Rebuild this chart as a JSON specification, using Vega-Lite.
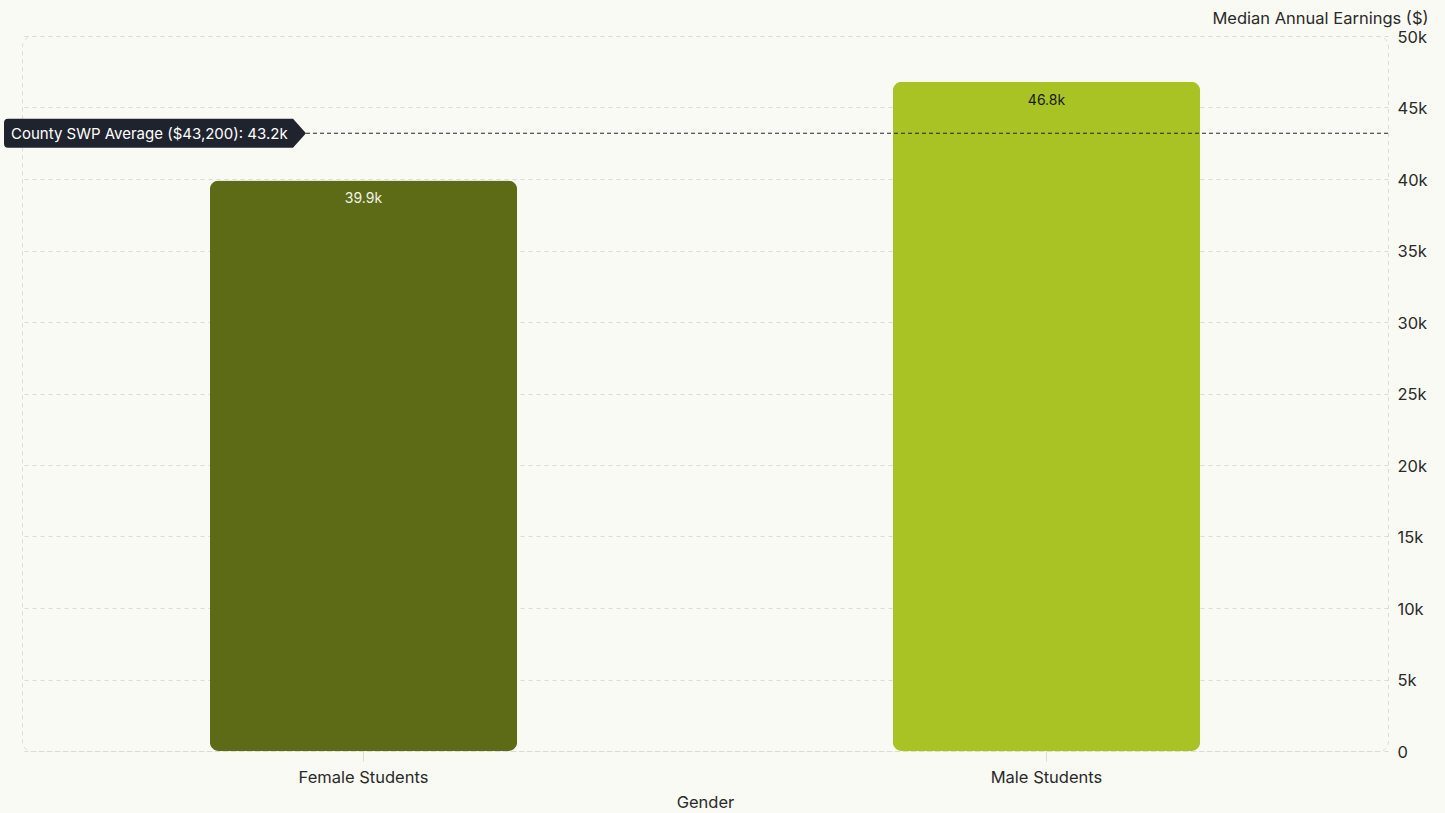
{
  "$schema": "https://vega.github.io/schema/vega-lite/v6.json",
  "width": 1366,
  "height": 715,
  "autosize": {"type": "none"},
  "padding": {"left": 22, "top": 36, "right": 57, "bottom": 62},
  "background": "#FAFAF4",
  "config": {
    "font": "Inter",
    "view": {"stroke": "#DCDCD6", "strokeDash": [4, 4], "cornerRadius": 10, "strokeWidth": 1},
    "axis": {"labelFont": "Inter", "titleFont": "Inter", "labelColor": "#2A2A2A", "titleColor": "#2A2A2A", "labelFontSize": 16.5, "titleFontSize": 16.5, "titleFontWeight": "normal"}
  },
  "datasets": {
    "main": [
      {"Gender": "Female Students", "Earnings": 39900},
      {"Gender": "Male Students", "Earnings": 46800}
    ],
    "ref": [
      {"label": "County SWP Average ($43,200): 43.2k", "value": 43200}
    ]
  },
  "layer": [
    {
      "data": {"name": "main"},
      "mark": {"type": "bar", "cornerRadius": 9},
      "encoding": {
        "x": {
          "field": "Gender", "type": "nominal", "sort": null,
          "scale": {"paddingInner": 0.55, "paddingOuter": 0.275},
          "axis": {"labelAngle": 0, "domain": false, "ticks": true, "tickColor": "#DCDCD6", "tickSize": 10, "labelPadding": 8, "titlePadding": 9, "grid": false}
        },
        "y": {
          "field": "Earnings", "type": "quantitative",
          "scale": {"domain": [0, 50000], "nice": false},
          "title": "Median Annual Earnings ($)",
          "axis": {
            "orient": "right", "values": [0, 5000, 10000, 15000, 20000, 25000, 30000, 35000, 40000, 45000, 50000],
            "labelExpr": "datum.value === 0 ? '0' : format(datum.value, '~s')",
            "domain": false, "ticks": false, "labelPadding": 9, "labelOffset": 1,
            "grid": true, "gridColor": "#DCDCD6", "gridDash": [4, 4],
            "titleAngle": 0, "titleAlign": "right", "titleAnchor": "end", "titleBaseline": "middle", "titleX": 40, "titleY": -18
          }
        },
        "color": {
          "field": "Gender", "type": "nominal",
          "scale": {"domain": ["Female Students", "Male Students"], "range": ["#5E6B16", "#A9C324"]},
          "legend": null
        }
      }
    },
    {
      "data": {"name": "main"},
      "mark": {"type": "text", "baseline": "top", "dy": 12, "fontSize": 14, "font": "Inter"},
      "encoding": {
        "x": {"field": "Gender", "type": "nominal", "sort": null},
        "y": {"field": "Earnings", "type": "quantitative"},
        "text": {"field": "Earnings", "type": "quantitative", "format": ".3s"},
        "color": {"condition": {"test": "datum.Gender === 'Female Students'", "value": "#F2F2E8"}, "value": "#1A1A1A"}
      }
    },
    {
      "data": {"name": "ref"},
      "mark": {"type": "rule", "strokeDash": [4, 3], "color": "#222222", "strokeWidth": 1},
      "encoding": {"y": {"field": "value", "type": "quantitative"}}
    },
    {
      "data": {"name": "ref"},
      "mark": {
        "type": "point", "filled": true, "size": 4, "opacity": 1,
        "shape": "M -697,-14.5 L -412,-14.5 L -399,0 L -412,14.5 L -697,14.5 Q -701,14.5 -701,10.5 L -701,-10.5 Q -701,-14.5 -697,-14.5 Z",
        "color": "#1F232D", "strokeWidth": 0
      },
      "encoding": {"y": {"field": "value", "type": "quantitative"}}
    },
    {
      "data": {"name": "ref"},
      "mark": {"type": "text", "align": "left", "baseline": "middle", "dx": -694, "dy": 1, "fontSize": 15, "font": "Inter", "color": "#FFFFFF"},
      "encoding": {
        "y": {"field": "value", "type": "quantitative"},
        "text": {"field": "label", "type": "nominal"}
      }
    }
  ]
}
